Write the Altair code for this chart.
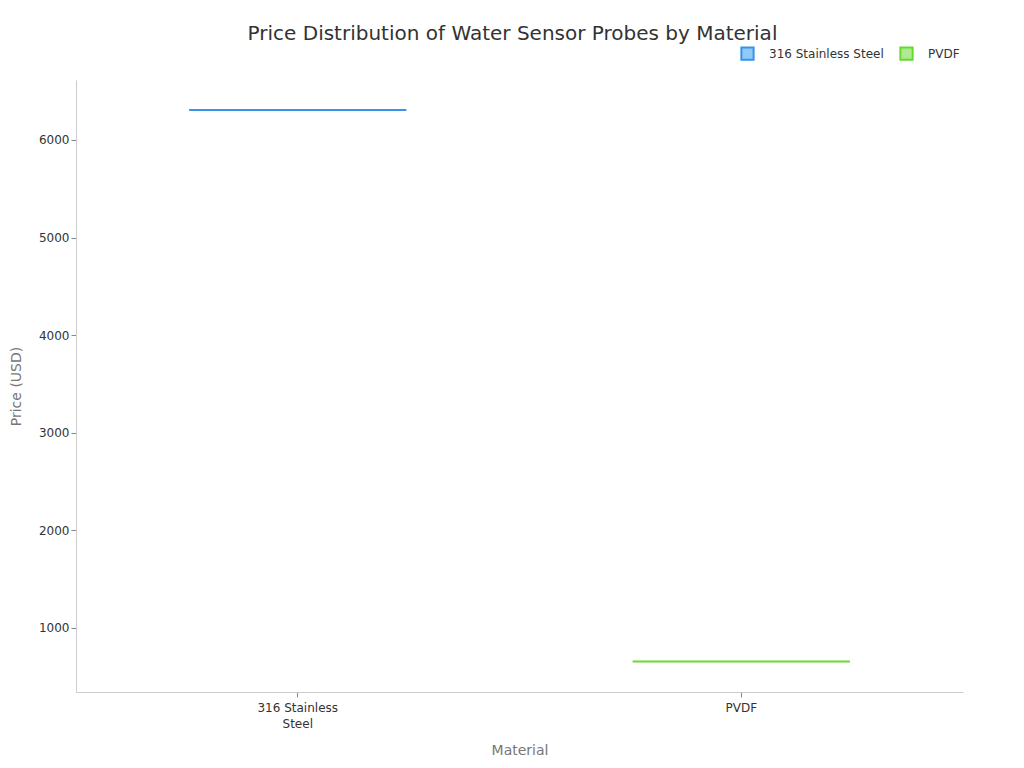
import altair as alt
import pandas as pd

materials = ["316 Stainless Steel", "PVDF"]
prices = [6308, 654]
fill_colors = ["#90CAF9", "#AEEA94"]
stroke_colors = ["#3A92E8", "#66D92A"]

df = pd.DataFrame({"Material": materials, "Price": prices})

legend_cfg = dict(
    title=None,
    orient="none",
    direction="horizontal",
    legendX=664,
    legendY=-34,
    symbolType="square",
    symbolSize=150,
    symbolStrokeWidth=2,
    labelFontSize=12,
    labelColor="#333333",
    labelOffset=14,
    columnPadding=12,
)

bars = alt.Chart(df).mark_bar(strokeWidth=2, fillOpacity=0.9).encode(
    x=alt.X(
        "Material:N",
        sort=materials,
        scale=alt.Scale(paddingInner=0.51, paddingOuter=0.255),
        axis=alt.Axis(
            title="Material",
            labelAngle=0,
            labelExpr="datum.label == '316 Stainless Steel' ? ['316 Stainless', 'Steel'] : datum.label",
            labelFontSize=12,
            labelColor="#333333",
            labelLineHeight=16,
            labelPadding=5,
            titleFontSize=14,
            titleColor="#777777",
            titleFontWeight="normal",
            titlePadding=14,
            domainColor="#cccccc",
            tickColor="#888888",
        ),
    ),
    y=alt.Y(
        "Price:Q",
        scale=alt.Scale(domain=[341, 6615], nice=False, zero=False),
        axis=alt.Axis(
            title="Price (USD)",
            values=[1000, 2000, 3000, 4000, 5000, 6000],
            format="d",
            grid=False,
            labelFontSize=12,
            labelColor="#333333",
            titleFontSize=14,
            titleColor="#777777",
            titleFontWeight="normal",
            titlePadding=15,
            domainColor="#cccccc",
            tickColor="#888888",
        ),
    ),
    y2="Price:Q",
    fill=alt.Fill(
        "Material:N",
        sort=materials,
        scale=alt.Scale(domain=materials, range=fill_colors),
        legend=alt.Legend(**legend_cfg),
    ),
    stroke=alt.Stroke(
        "Material:N",
        sort=materials,
        scale=alt.Scale(domain=materials, range=stroke_colors),
        legend=alt.Legend(**legend_cfg),
    ),
)

chart = bars.properties(
    width=887,
    height=612,
    title=alt.TitleParams(
        "Price Distribution of Water Sensor Probes by Material",
        fontSize=20,
        fontWeight="normal",
        color="#333333",
        anchor="middle",
        frame="group",
        dx=-7,
        offset=2,
    ),
    autosize=alt.AutoSizeParams(type="none"),
    padding={"left": 68, "top": 72, "right": 53, "bottom": 64},
).configure(font="DejaVu Sans").configure_view(stroke=None)

chart.save("out.html", embed_options={"renderer": "svg", "actions": False})
